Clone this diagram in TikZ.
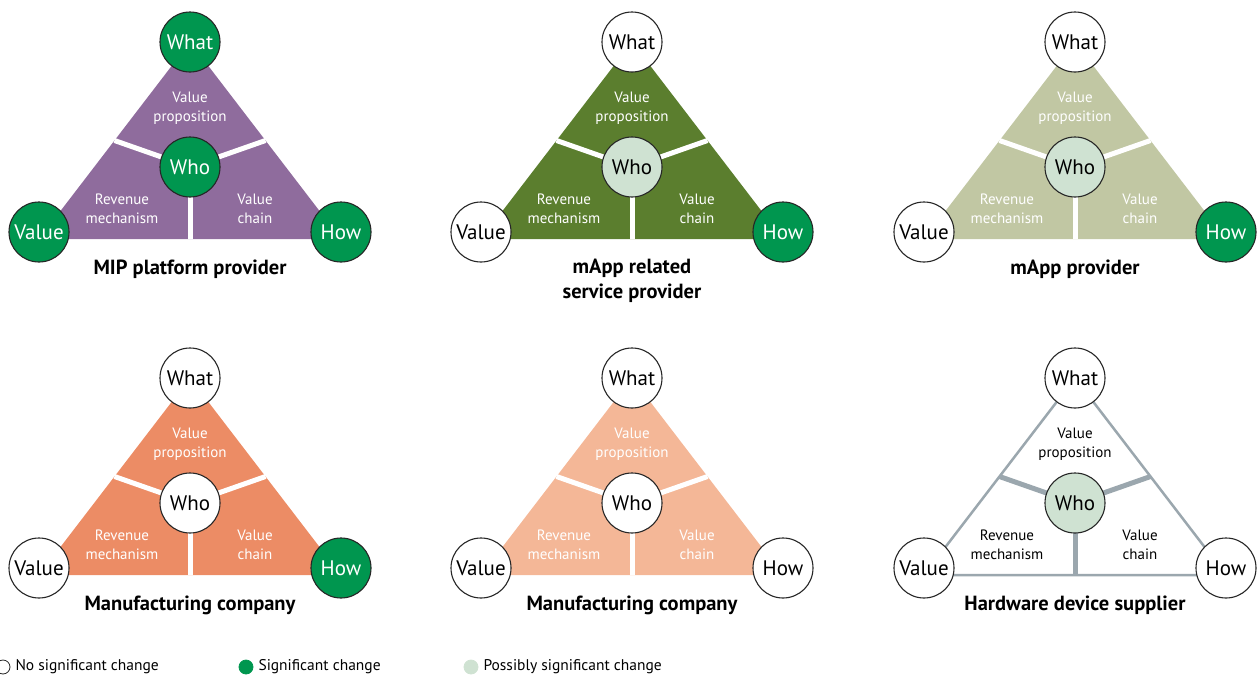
\documentclass[tikz,border=0pt]{standalone}
\usepackage{fontspec}
\setmainfont{PT Sans}
\usepackage{xcolor}
\usepackage{tikz}
\usetikzlibrary{calc}

\definecolor{sigGreen}{HTML}{00964F}
\definecolor{possGreen}{HTML}{CFE2D2}
\definecolor{mipPurple}{HTML}{8F6C9D}
\definecolor{oliveDark}{HTML}{5B7E2E}
\definecolor{olivePale}{HTML}{C1C7A3}
\definecolor{orangeDark}{HTML}{EC8C65}
\definecolor{orangePale}{HTML}{F4B797}
\definecolor{lineGray}{HTML}{9BA7AE}

\tikzset{
    tri/.style={fill=mipPurple},
    divider/.style={draw=white, line width=5pt},
    dim/.style={circle, draw=black!85, line width=1.1pt, minimum size=60pt, inner sep=0pt,
        font=\fontsize{21}{21}\selectfont},
    none/.style={fill=white, text=black},
    sig/.style={fill=sigGreen, text=white},
    poss/.style={fill=possGreen, text=black},
    lbl/.style={align=center, text=white, font=\fontsize{15}{19.5}\selectfont},
    title/.style={anchor=north, align=center, font=\bfseries\fontsize{20.5}{25}\selectfont},
    legdot/.style={circle, draw=black!85, line width=0.8pt, minimum size=14pt, inner sep=0pt},
    legtext/.style={anchor=west, font=\fontsize{15.5}{15.5}\selectfont}
}

% one business model triangle: name, position, options, What, Who, Value, How, title
\newcommand{\bmodel}[8]{%
    \begin{scope}[shift={#2}, #3]
        % corners of the triangle
        \coordinate (#1-t) at (0,0);
        \coordinate (#1-l) at (-151,197);
        \coordinate (#1-r) at (151,197);
        \coordinate (#1-c) at (0,125);
        \path[tri] (#1-t) -- (#1-l) -- (#1-r) -- cycle;
        % split into three parts
        \draw[divider] (#1-c) -- ($(#1-t)!0.5!(#1-l)$);
        \draw[divider] (#1-c) -- ($(#1-t)!0.5!(#1-r)$);
        \draw[divider] (#1-c) -- ($(#1-l)!0.5!(#1-r)$);
        % texts of the parts
        \node[lbl] (#1-vp) at (0,66) {Value\\proposition};
        \node[lbl] (#1-rm) at (-68,167) {Revenue\\mechanism};
        \node[lbl] (#1-vc) at (65,167) {Value\\chain};
        % the four dimensions
        \node[dim, #4] (#1-what) at (#1-t) {What};
        \node[dim, #5] (#1-who) at (#1-c) {Who};
        \node[dim, #6] (#1-value) at (-151,190) {Value};
        \node[dim, #7] (#1-how) at (151,190) {How};
        \node[title] (#1-title) at (0,214) {#8};
    \end{scope}}

\begin{document}
\begin{tikzpicture}[x=1pt, y=-1pt]
    \useasboundingbox (0,0) rectangle (1259,675);

    % Top row
    \bmodel{mip}{(190,42)}{}{sig}{sig}{sig}{sig}{MIP platform provider}
    \bmodel{rel}{(632,42)}{tri/.style={fill=oliveDark}}{none}{poss}{none}{sig}{mApp related\\service provider}
    \bmodel{app}{(1075,42)}{tri/.style={fill=olivePale}}{none}{poss}{none}{sig}{mApp provider}

    % Bottom row
    \bmodel{mfa}{(190,378)}{tri/.style={fill=orangeDark}}{none}{none}{none}{sig}{Manufacturing company}
    \bmodel{mfb}{(632,378)}{tri/.style={fill=orangePale}}{none}{none}{none}{none}{Manufacturing company}
    \bmodel{hw}{(1075,378)}{tri/.style={fill=white, draw=lineGray, line width=2.5pt},
        divider/.style={draw=lineGray, line width=5pt}, lbl/.append style={text=black}}%
        {none}{poss}{none}{none}{Hardware device supplier}

    % Legend
    \node[legdot, fill=white] (l1) at (3,667) {};
    \node[legtext] (t1) at (12,667) {No significant change};
    \node[legdot, fill=sigGreen, draw=sigGreen] (l2) at (246,667) {};
    \node[legtext] (t2) at (255,667) {Significant change};
    \node[legdot, fill=possGreen, draw=possGreen] (l3) at (471,667) {};
    \node[legtext] (t3) at (480,667) {Possibly significant change};
\end{tikzpicture}
\end{document}
